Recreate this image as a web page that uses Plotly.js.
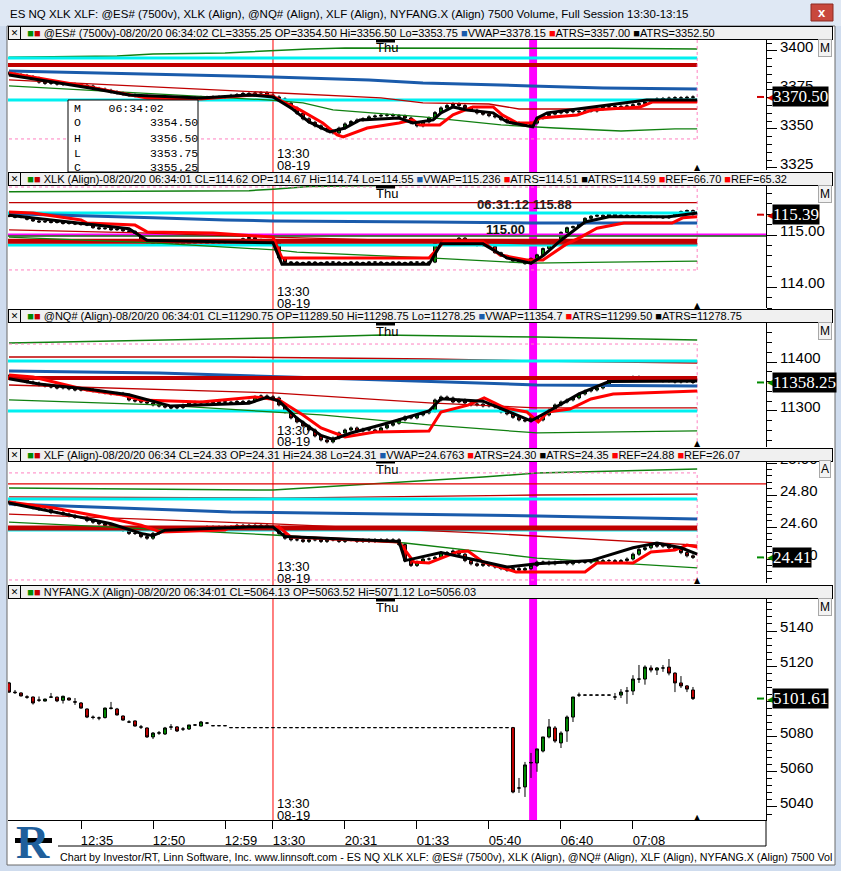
<!DOCTYPE html>
<html><head><meta charset="utf-8">
<script src="https://cdn.plot.ly/plotly-3.0.1.min.js"></script>
<style>html,body{margin:0;padding:0;background:#fff;overflow:hidden}#chart{width:841px;height:871px}</style>
</head><body><div id="chart"></div>
<script>
// ---------------- DATA ----------------
const xTickIdx  = [12, 24, 36, 44, 56, 68, 80, 92, 104];
const xTickText = ['12:35','12:50','12:59','13:30','20:31','01:33','05:40','06:40','07:08'];
const sessionBreakIdx = 44;     // 13:30 08-19 (red line)
const eventIdx = 87.35;         // magenta marker

// @ES# closes
const esClose = [3385.25,3384.75,3384.25,3383.5,3382.5,3380,3379.25,3379.5,3378.75,3378.5,
3378.75,3378.25,3378,3377.5,3376,3375.5,3374.75,3373.75,3373,3372.25,
3371.75,3371.25,3371,3370.5,3370.25,3370.5,3370,3370.25,3369.75,3370,
3370,3369.75,3370.25,3370,3370.5,3370.25,3370.75,3371.5,3372,3372.75,
3372.5,3373,3373.25,3371.75,3370.5,3369.25,3366.5,3363.5,3360,3356.5,
3354.25,3352,3350.25,3348.75,3347.5,3350.5,3353.25,3354.75,3355.75,3356.5,
3357.75,3358.25,3358.75,3359,3358.5,3358.25,3357,3354,3352,3354.5,
3357,3360.5,3363.5,3365,3366,3365,3363.5,3362,3360.25,3359.5,
3358.5,3357.75,3356,3354.5,3353.75,3353.25,3352.75,3353.75,3357,3358.5,
3359.5,3360.25,3360.5,3361,3361.25,3361,3361.5,3361.5,3362.75,3364,
3364.25,3364.5,3364.25,3364.75,3365.5,3366.25,3367.25,3368.25,3369.25,3369.5,
3369.75,3370,3369.75,3370.25,3370.5];
const esGreenHi = [[0,3396],[18,3396.8],[24,3398.1],[36,3398.7],[50,3401.3],[56,3401.9],[100,3401.7],[108,3401.3],[114.7,3401.3]];
const esCyan = [3395.5, 3368.6];
const esRef = [3391];
const esPink = [3343.6];
const esVwap = [[0,3387.2],[24,3385.3],[44,3383.3],[60,3381.4],[69,3379.5],[87,3377.6],[99,3376.3],[114.7,3375.6]];
const esRedBand = [[0,3381.4],[14,3378.8],[44,3373.1],[62,3369.9],[69,3366.7],[80,3366],[85,3362.8],[114.7,3362.8]];
const esGreenLo = [[0,3377.6],[18,3373.7],[43,3368.6],[49,3366.7],[54,3362.2],[69,3357.7],[82,3352.6],[91,3350.6],[102,3348.7],[111,3350],[114.7,3350]];
const esAtrsRed = [[0,3385.9],[4,3383.3],[13.5,3376.9],[18.5,3373.1],[23,3369.9],[32,3369.2],[37,3370.5],[40.7,3371.8],[44,3371.2],[45.7,3367.3],[48.5,3362.2],[52.3,3353.8],[54.7,3346.2],[55.7,3344.9],[59.7,3350.6],[65,3353.8],[67.3,3355.8],[68.5,3352.6],[71.8,3352.6],[74,3359],[77.3,3364.1],[80.7,3364.1],[82.2,3359],[84.7,3353.8],[87.3,3353.8],[88.5,3357],[90.7,3357.7],[94.7,3359],[97.3,3362.2],[101.8,3363.5],[105.2,3364.1],[107.3,3367.3],[114.7,3367.3]];
const esAtrsBlack = [[0,3384.6],[5.2,3381.4],[13.5,3376.3],[20,3371.8],[32,3369.9],[40,3371.8],[44,3370.5],[47,3363.5],[50,3354.5],[53.5,3348.1],[56,3350.6],[58.5,3355.8],[65,3357],[67.3,3353.8],[70.7,3355.8],[72,3360.3],[74,3364.1],[76.3,3362.2],[80.7,3360.3],[83,3354.5],[87.3,3351.3],[88,3357],[89.7,3360.3],[97.3,3364.1],[106.3,3368.6],[114.7,3368.6]];

// XLK closes
const xlkClose = [115.36,115.34,115.35,115.30,115.27,115.25,115.26,115.24,115.25,115.22,
115.23,115.21,115.20,115.19,115.14,115.12,115.13,115.10,115.11,115.08,
115.07,115.00,114.90,114.86,114.84,114.85,114.82,114.84,114.83,114.85,
114.84,114.86,114.85,114.84,114.86,114.85,114.87,114.86,114.88,114.93,
114.95,114.91,114.88,114.87,114.86,114.56,114.47,114.48,114.47,114.47,
114.48,114.47,114.47,114.48,114.48,114.47,114.47,114.48,114.47,114.47,
114.48,114.48,114.47,114.47,114.48,114.47,114.47,114.48,114.48,114.47,
114.48,114.84,114.86,114.85,114.87,114.94,114.84,114.82,114.80,114.81,
114.78,114.66,114.60,114.55,114.50,114.48,114.45,114.55,114.62,114.74,
114.86,114.90,115.05,115.14,115.16,115.22,115.32,115.36,115.38,115.35,
115.40,115.37,115.38,115.36,115.37,115.35,115.36,115.34,115.35,115.33,
115.36,115.42,115.45,115.47,115.39];
const xlkGreenHi = [[0,115.83],[40,115.85],[44,115.88],[50,115.93],[70,115.96],[114.7,115.96]];
const xlkRedHi = [[0,115.62],[44,115.62],[70,115.63],[100,115.63],[114.7,115.62]];
const xlkCyan = [115.42, 114.81];
const xlkMagenta = [115.00];
const xlkGreenLv = [114.98];
const xlkRef = [114.88];
const xlkPink = [115.92, 114.33];
const xlkVwap = [[0,115.41],[14,115.37],[24,115.33],[36,115.29],[44,115.27],[70,115.25],[87,115.23],[114.7,115.23]];
const xlkGreenLo = [[0,114.96],[24,114.85],[45,114.71],[48,114.67],[70,114.56],[87,114.46],[100,114.48],[114.7,114.50]];
const xlkRedLo = [[0,115.10],[22,115.04],[44,114.96],[87,114.83],[114.7,114.83]];
const xlkAtrsRed = [[0,115.44],[4,115.42],[12,115.29],[13,115.23],[21,115.19],[23,115.06],[34,115.04],[44,114.96],[45.5,114.56],[70,114.56],[72.5,114.87],[79,114.87],[81.8,114.62],[86.3,114.52],[89,114.52],[92.7,114.81],[95.3,114.96],[98,115.13],[102.5,115.23],[110.5,115.23],[112.3,115.33],[114.7,115.35]];
const xlkAtrsBlack = [[0,115.38],[12,115.23],[20,115.12],[23,114.9],[44,114.85],[45.5,114.44],[70,114.44],[72,114.83],[79,114.83],[83,114.56],[87,114.46],[89,114.6],[92,114.9],[96,115.25],[100,115.35],[110,115.35],[114.7,115.42]];

// @NQ# closes
const nqClose = [11369.4,11365.3,11363.3,11359.2,11357.1,11353.1,11351,11349,11347,11348,
11345,11343,11342.9,11344,11340.8,11338.8,11336.8,11334.7,11336,11332.7,
11322.5,11320.4,11318.4,11316.4,11312.3,11310.2,11308.2,11306.2,11307,11312,
11316,11318,11316.5,11318.5,11317,11319,11318,11317.5,11319.5,11318,
11320,11328.6,11330.7,11329,11326.6,11312.3,11298,11285.8,11277.6,11269.4,
11261.3,11249,11240.9,11236.8,11245,11255.2,11261.3,11265.4,11259,11263,
11261.3,11258,11265.4,11271,11275,11281.7,11288,11285.8,11291.9,11296,
11300,11322.5,11328.6,11326.6,11318.4,11322.5,11316.4,11312.3,11314,11310.2,
11312.3,11308.2,11298,11294,11287,11281.7,11279.7,11285.8,11281.7,11292,
11302.1,11312.3,11318.4,11322.5,11326.6,11334.7,11340.8,11342.9,11347,11353.1,
11363.3,11365.3,11367.3,11365.3,11369.4,11365,11363.3,11366,11364,11361,
11362,11359.2,11361,11360,11358.25];
const nqGreenHi = [[0,11438.8],[44,11449],[62,11455],[88,11451],[114.7,11445]];
const nqPink = [11436.7];
const nqRedHi = [[0,11410.2],[37,11410.2],[70,11406.1],[88,11402],[114.7,11398]];
const nqCyan = [11402, 11300];
const nqRef = [11367.4];
const nqVwap = [[0,11381.6],[25,11377.6],[52,11367.4],[79,11357.2],[88,11353.1],[114.7,11351]];
const nqRedMid = [[0,11353.1],[44,11336.8],[70,11316.4],[88,11306.2],[114.7,11306.2]];
const nqGreenLo = [[0,11322.5],[25,11312.3],[52,11291.9],[70,11271.5],[88,11255.2],[114.7,11259.3]];
const nqAtrsRed = [[0,11373.5],[4,11369.4],[13,11342.9],[19,11332.7],[22,11322.5],[32,11318.4],[41,11328.6],[45,11322.5],[49,11291.9],[52,11265.4],[56,11247],[61,11257.1],[70,11259.2],[72,11298],[76.5,11312],[79.2,11326.6],[82.7,11306],[86.3,11298],[88.2,11277.6],[89.8,11298],[93.5,11304.1],[97,11324.5],[100.7,11334.7],[114.7,11340.8]];
const nqAtrsBlack = [[0,11366],[5,11355],[13,11345],[20,11333],[27,11310],[40,11316],[43,11328],[45,11320],[48,11285],[52,11250],[54,11242],[57,11255],[63,11275],[70,11300],[72,11325],[79,11320],[83,11300],[87,11280],[90,11300],[95,11335],[100,11360],[114.7,11361]];

// XLF closes
const xlfClose = [24.75,24.74,24.74,24.73,24.72,24.71,24.71,24.69,24.69,24.68,
24.67,24.66,24.66,24.64,24.63,24.62,24.61,24.60,24.59,24.58,
24.56,24.56,24.54,24.53,24.56,24.58,24.59,24.58,24.59,24.59,
24.58,24.59,24.59,24.60,24.59,24.60,24.59,24.60,24.61,24.60,
24.61,24.60,24.61,24.60,24.60,24.56,24.53,24.52,24.52,24.51,
24.52,24.52,24.51,24.52,24.52,24.51,24.52,24.52,24.51,24.52,
24.51,24.52,24.52,24.51,24.52,24.49,24.39,24.36,24.38,24.40,
24.40,24.41,24.44,24.44,24.45,24.43,24.39,24.37,24.36,24.37,
24.36,24.35,24.34,24.33,24.34,24.33,24.34,24.36,24.38,24.38,
24.37,24.38,24.38,24.37,24.38,24.38,24.38,24.39,24.38,24.39,
24.39,24.38,24.39,24.40,24.43,24.46,24.47,24.49,24.48,24.49,
24.47,24.46,24.44,24.42,24.41];
const xlfGreenHi = [[0,24.844],[44,24.831],[79,24.912],[88,24.938],[114.7,24.962]];
const xlfPink = [24.938, 24.269];
const xlfRefLine = [24.869];
const xlfRedHi = [[0,24.788],[44,24.781],[88,24.8],[114.7,24.806]];
const xlfCyan = [24.775, 24.581];
const xlfRef = [24.594];
const xlfVwap = [[0,24.744],[37,24.694],[88,24.669],[114.7,24.65]];
const xlfRedMid = [[0,24.681],[44,24.619],[79,24.562],[114.7,24.487]];
const xlfGreenLo = [[0,24.631],[44,24.55],[66,24.5],[88,24.406],[114.7,24.344]];
const xlfAtrsRed = [[0,24.756],[7.5,24.719],[12,24.687],[16.5,24.656],[22,24.612],[25.3,24.569],[36,24.581],[37,24.6],[45,24.6],[47,24.537],[65,24.506],[67.5,24.381],[70,24.375],[74.7,24.444],[76.5,24.45],[79,24.381],[84.5,24.319],[96,24.319],[98,24.375],[104,24.375],[107,24.444],[111,24.456],[113,24.487],[114.7,24.475]];
const xlfAtrsBlack = [[0,24.75],[7,24.7],[12,24.66],[17,24.62],[22,24.56],[24,24.545],[26,24.58],[40,24.6],[44,24.6],[46,24.54],[65,24.51],[66,24.39],[72,24.44],[77,24.4],[83,24.35],[88,24.37],[97,24.39],[104,24.47],[108,24.5],[112,24.47],[114.7,24.43]];

// NYFANG.X OHLC
const nyOpen = [5110.5,5105.3,5104.8,5102.6,5102.5,5100.8,5100.2,5102.4,5102.4,5100.6,
5101.9,5099.8,5099.1,5095.7,5091.1,5090.6,5090.8,5096.0,5095.7,5091.7,
5088.3,5088.9,5085.5,5084.9,5079.8,5082.0,5081.5,5085.5,5085.5,5084.3,
5084.3,5086.6,5086.0,5087.7,5086.2,5086.2,5086.2,5085.1,5085.1,5085.1,
5085.1,5085.1,5085.1,5085.1,5085.1,5085.1,5085.1,5085.1,5085.1,5085.1,
5085.1,5085.1,5085.1,5085.1,5085.1,5085.1,5085.1,5085.1,5085.1,5085.1,
5085.1,5085.1,5085.1,5085.1,5085.1,5085.1,5085.1,5085.1,5085.1,5085.1,
5085.1,5085.1,5085.1,5085.1,5085.1,5085.1,5085.1,5085.1,5085.1,5085.1,
5085.1,5085.1,5085.1,5085.1,5085.1,5050.8,5051.4,5065.0,5065.0,5071.8,
5079.8,5084.9,5076.4,5083.2,5091.1,5103.6,5103.6,5103.6,5103.6,5103.6,
5103.6,5102.5,5103.6,5105.9,5105.9,5112.7,5112.7,5119.0,5117.8,5119.0,
5119.5,5116.1,5110.5,5108.8,5106.5];
const nyHigh = [5111.1,5106.5,5105.2,5103.5,5102.8,5102.8,5101.6,5104.8,5102.8,5103.3,
5102.2,5101.9,5099.6,5096.0,5092.0,5091.4,5096.5,5099.7,5096.3,5092.0,
5089.3,5089.2,5086.6,5085.2,5082.6,5083.2,5085.5,5087.1,5086.0,5085.4,
5086.6,5087.1,5088.9,5088.3,5086.2,5086.2,5086.2,5085.1,5085.1,5085.1,
5085.1,5085.1,5085.1,5085.1,5085.1,5085.1,5085.1,5085.1,5085.1,5085.1,
5085.1,5085.1,5085.1,5085.1,5085.1,5085.1,5085.1,5085.1,5085.1,5085.1,
5085.1,5085.1,5085.1,5085.1,5085.1,5085.1,5085.1,5085.1,5085.1,5085.1,
5085.1,5085.1,5085.1,5085.1,5085.1,5085.1,5085.1,5085.1,5085.1,5085.1,
5085.1,5085.1,5085.1,5085.1,5085.5,5056.5,5065.6,5070.7,5073.0,5079.8,
5090.0,5086.0,5083.0,5092.0,5102.5,5105.0,5103.6,5103.6,5103.6,5103.6,
5103.6,5104.8,5107.0,5108.2,5114.9,5120.7,5120.5,5120.5,5119.5,5120.7,
5124.1,5116.5,5114.4,5109.3,5108.2];
const nyLow = [5104.8,5104.2,5102.8,5101.5,5098.2,5099.7,5100.0,5102.0,5099.6,5098.8,
5100.5,5098.0,5095.9,5090.5,5089.8,5089.3,5090.3,5095.4,5092.0,5089.1,
5087.7,5085.7,5084.3,5079.3,5078.6,5081.0,5080.9,5083.8,5082.6,5083.2,
5083.8,5086.0,5085.7,5087.1,5086.2,5086.2,5086.2,5085.1,5085.1,5085.1,
5085.1,5085.1,5085.1,5085.1,5085.1,5085.1,5085.1,5085.1,5085.1,5085.1,
5085.1,5085.1,5085.1,5085.1,5085.1,5085.1,5085.1,5085.1,5085.1,5085.1,
5085.1,5085.1,5085.1,5085.1,5085.1,5085.1,5085.1,5085.1,5085.1,5085.1,
5085.1,5085.1,5085.1,5085.1,5085.1,5085.1,5085.1,5085.1,5085.1,5085.1,
5085.1,5085.1,5085.1,5085.1,5047.8,5048.0,5045.7,5056.5,5060.0,5071.0,
5079.0,5076.5,5073.5,5077.0,5088.3,5102.5,5103.6,5103.6,5103.6,5103.6,
5103.6,5100.8,5101.9,5098.6,5103.6,5110.5,5109.5,5116.5,5115.0,5116.8,
5114.8,5105.3,5107.6,5105.3,5100.8];
const nyClose = [5105.3,5105.0,5103.1,5102.4,5099.1,5100.7,5101.3,5102.5,5100.3,5102.9,
5100.8,5099.6,5096.2,5091.1,5090.9,5090.6,5096.2,5096.2,5092.3,5089.4,
5088.3,5086.0,5085.4,5079.8,5082.0,5082.1,5084.9,5085.4,5083.2,5084.3,
5086.6,5086.6,5088.3,5087.7,5086.2,5086.2,5086.2,5085.1,5085.1,5085.1,
5085.1,5085.1,5085.1,5085.1,5085.1,5085.1,5085.1,5085.1,5085.1,5085.1,
5085.1,5085.1,5085.1,5085.1,5085.1,5085.1,5085.1,5085.1,5085.1,5085.1,
5085.1,5085.1,5085.1,5085.1,5085.1,5085.1,5085.1,5085.1,5085.1,5085.1,
5085.1,5085.1,5085.1,5085.1,5085.1,5085.1,5085.1,5085.1,5085.1,5085.1,
5085.1,5085.1,5085.1,5085.1,5048.5,5050.8,5063.9,5065.3,5073.0,5079.8,
5085.5,5077.5,5082.0,5091.1,5102.5,5103.6,5103.6,5103.6,5103.6,5103.6,
5103.6,5102.5,5105.3,5105.9,5112.7,5112.7,5119.5,5117.8,5119.0,5119.0,
5116.1,5110.5,5108.8,5107.0,5101.61];

const lastLabels = ['3370.50','115.39','11358.25','24.41','5101.61'];
const lastValues = [3370.5, 115.39, 11358.25, 24.41, 5101.61];

// ---------------- LAYOUT HELPERS ----------------
const PL = 8, PR = 766, PT = 40, PB = 820;
const px = x => (x - PL) / (PR - PL);
const py = y => (PB - y) / (PB - PT);
const panels = [{top:40,bot:170},{top:186,bot:308},{top:323,bot:447},{top:461,bot:583},{top:599,bot:820}];
const headerY = [33, 179, 316.5, 454.5, 592];
const yNames = ['y','y2','y3','y4','y5'];
const xIdx = esClose.map((_, i) => i);
const XL = -1, XE = xIdx.length - 0.3;

const traces = [];
function line(pts, yax, color, width, dash) {
  traces.push({type:'scatter', mode:'lines', x: pts.map(p=>p[0]), y: pts.map(p=>p[1]),
    xaxis:'x', yaxis:yax, line:{color, width, dash: dash || 'solid'}, hoverinfo:'skip', showlegend:false});
}
function level(v, yax, color, width, dash, xEnd) { line([[XL, v],[xEnd === undefined ? XE : xEnd, v]], yax, color, width, dash); }
function vdash(lo, hi, yax) { line([[XE, lo],[XE, hi]], yax, '#ff80c0', 1, 'dot'); }
function candles(o, h, l, c, yax) {
  traces.push({type:'candlestick', x:xIdx, open:o, high:h, low:l, close:c, xaxis:'x', yaxis:yax,
    increasing:{line:{color:'#000', width:1}, fillcolor:'#008a00'},
    decreasing:{line:{color:'#000', width:1}, fillcolor:'#c40000'},
    whiskerwidth:0, hoverinfo:'skip', showlegend:false});
}
function fromClose(c, first, wick) {
  const o = c.map((v, i) => i ? c[i-1] : first);
  const h = c.map((v, i) => Math.max(o[i], v) + wick);
  const l = c.map((v, i) => Math.min(o[i], v) - wick);
  return [o, h, l, c];
}

const CY = '#00f0f0', BL = '#1a5bab', DR = '#c00000', GR = '#108010', PK = '#ff80c0';

// Panel 1 ES
line(esGreenHi,'y',GR,1.5);
level(esCyan[0],'y',CY,3); level(esCyan[1],'y',CY,3);
level(esRef[0],'y',DR,4);
line(esVwap,'y',BL,3);
line(esRedBand,'y',DR,1.3);
line(esGreenLo,'y',GR,1.3);
level(esPink[0],'y',PK,1,'dot'); vdash(esPink[0], 3407, 'y');
line(esAtrsRed,'y','#ff0000',3);
line(esAtrsBlack,'y','#000',3);
candles(...fromClose(esClose, 3386, 1), 'y');

// Panel 2 XLK
line(xlkGreenHi,'y2',GR,1.5);
line(xlkRedHi,'y2',DR,1.3);
level(xlkPink[0],'y2',PK,1,'dot'); level(xlkPink[1],'y2',PK,1,'dot'); vdash(xlkPink[1], xlkPink[0], 'y2');
level(xlkCyan[0],'y2',CY,3); level(xlkCyan[1],'y2',CY,3);
line(xlkVwap,'y2',BL,3);
level(xlkMagenta[0],'y2','#ff00ff',3,'solid',130);
level(xlkGreenLv[0],'y2',GR,1.5,'solid',130);
level(xlkRef[0],'y2',DR,5);
line(xlkGreenLo,'y2',GR,1.3);
line(xlkRedLo,'y2',DR,1.3);
line(xlkAtrsRed,'y2','#ff0000',3);
line(xlkAtrsBlack,'y2','#000',3);
candles(...fromClose(xlkClose, 115.38, 0.02), 'y2');

// Panel 3 NQ
line(nqGreenHi,'y3',GR,1.5);
level(nqPink[0],'y3',PK,1,'dot'); vdash(11226, nqPink[0], 'y3');
line(nqRedHi,'y3',DR,1.3);
level(nqCyan[0],'y3',CY,3); level(nqCyan[1],'y3',CY,3);
line(nqVwap,'y3',BL,3);
level(nqRef[0],'y3',DR,4);
line(nqRedMid,'y3',DR,1.3);
line(nqGreenLo,'y3',GR,1.3);
line(nqAtrsRed,'y3','#ff0000',3);
line(nqAtrsBlack,'y3','#000',3);
candles(...fromClose(nqClose, 11372, 3), 'y3');

// Panel 4 XLF
line(xlfGreenHi,'y4',GR,1.5);
level(xlfPink[0],'y4',PK,1,'dot'); level(xlfPink[1],'y4',PK,1,'dot'); vdash(xlfPink[1], xlfPink[0], 'y4');
level(xlfRefLine[0],'y4','#e00000',1.3,'solid',130);
line(xlfRedHi,'y4',DR,1.3);
level(xlfCyan[0],'y4',CY,3); level(xlfCyan[1],'y4',CY,3);
line(xlfVwap,'y4',BL,3);
line(xlfRedMid,'y4',DR,1.3);
level(xlfRef[0],'y4',DR,5);
line(xlfGreenLo,'y4',GR,1.3);
line(xlfAtrsRed,'y4','#ff0000',3);
line(xlfAtrsBlack,'y4','#000',3);
candles(...fromClose(xlfClose, 24.76, 0.01), 'y4');

// Panel 5 NYFANG
candles(nyOpen, nyHigh, nyLow, nyClose, 'y5');

// ---------------- AXES ----------------
const yRanges = [[3323.7,3407],[113.6,115.94],[11226.5,11479.6],[24.25,25.0125],[5032.6,5158.2]];
const yDticks = [25, 1, 100, 0.2, 20];
const yMinor = [5, 0.2, 20, 0.04, 4];
const yFmt = ['d','.2f','d','.2f','d'];

const layout = {
  width:841, height:871, margin:{l:PL, r:841-PR, t:PT, b:871-PB},
  paper_bgcolor:'#fff', plot_bgcolor:'#fff', showlegend:false, hovermode:false,
  font:{family:'Liberation Sans, Arial, sans-serif', color:'#000'},
  xaxis:{range:[-0.167,126.17], anchor:'y5', tickmode:'array', tickvals:xTickIdx, ticktext:xTickText,
    ticks:'outside', ticklen:8, tickcolor:'#000', showline:true, linecolor:'#000', showgrid:false,
    zeroline:false, rangeslider:{visible:false}, tickfont:{size:13}, ticklabelshift:16, fixedrange:true},
  shapes:[], annotations:[]
};
panels.forEach((p, k) => {
  layout['yaxis' + (k ? k+1 : '')] = {
    domain:[py(p.bot), py(p.top)], range:yRanges[k], side:'right', anchor:'x',
    dtick:yDticks[k], tick0:0, tickformat:yFmt[k], ticks:'outside', ticklen:10, tickcolor:'#000',
    showline:true, linecolor:'#000', showgrid:false, zeroline:false, tickfont:{size:15},
    ticklabelshift:-4, fixedrange:true,
    minor:{ticks:'outside', ticklen:5, dtick:yMinor[k], tickcolor:'#000', showgrid:false}
  };
});

const S = layout.shapes, A = layout.annotations;
function prect(x0,y0,x1,y1,fill,lineColor,lw,layer){ S.push({type:'rect', xref:'paper', yref:'paper', x0:px(x0), x1:px(x1), y0:py(y1), y1:py(y0), fillcolor:fill, line:{color:lineColor||fill, width:lw===undefined?0:lw}, layer:layer||'above'}); }
function pline(x0,y0,x1,y1,color,w){ S.push({type:'line', xref:'paper', yref:'paper', x0:px(x0), x1:px(x1), y0:py(y0), y1:py(y1), line:{color, width:w||1}, layer:'above'}); }
function note(o) { A.push(Object.assign({showarrow:false, xanchor:'center', yanchor:'middle'}, o)); }

// event marker and session line
S.push({type:'rect', xref:'x', yref:'paper', x0:eventIdx-0.66, x1:eventIdx+0.66, y0:0, y1:1, fillcolor:'#ff00ff', line:{width:0}, layer:'below'});
S.push({type:'line', xref:'x', yref:'paper', x0:sessionBreakIdx, x1:sessionBreakIdx, y0:0, y1:1, line:{color:'#ff0000', width:1}, layer:'below'});

// window frame
prect(0,0,841,26,'#dfe8f4');
prect(0,26,7,871,'#cfdcee');
prect(835,26,841,871,'#cfdcee');
prect(0,865,841,871,'#cfdcee');
S.push({type:'rect', xref:'paper', yref:'paper', x0:px(7), x1:px(835), y0:py(865), y1:py(26), fillcolor:'rgba(0,0,0,0)', line:{color:'#6a6a6a', width:1}, layer:'above'});
prect(811,4,833,21,'#c8483d','#8b2a22',1);
note({xref:'paper', yref:'paper', x:px(822), y:py(12.5), text:'<b>x</b>', font:{size:13, color:'#fff'}});
note({xref:'paper', yref:'paper', x:px(8), y:py(14), xanchor:'left',
  text:'ES NQ XLK XLF: @ES# (7500v), XLK (Align), @NQ# (Align), XLF (Align), NYFANG.X (Align) 7500 Volume, Full Session 13:30-13:15',
  font:{size:11.5, family:'Liberation Sans'}});

// data window box in panel 1
prect(68,100,198,172,'#fff','#000',1);
const dataRows = ['M\u00a0\u00a0\u00a0\u00a006:34:02','O\u00a0\u00a0\u00a0\u00a0\u00a0\u00a0\u00a0\u00a0\u00a0\u00a03354.50','H\u00a0\u00a0\u00a0\u00a0\u00a0\u00a0\u00a0\u00a0\u00a0\u00a03356.50','L\u00a0\u00a0\u00a0\u00a0\u00a0\u00a0\u00a0\u00a0\u00a0\u00a03353.75','C\u00a0\u00a0\u00a0\u00a0\u00a0\u00a0\u00a0\u00a0\u00a0\u00a03355.25'];
dataRows.forEach((t, r) => note({xref:'paper', yref:'paper', x:px(72), y:py(108 + 15*r), xanchor:'left', text:t, font:{family:'Liberation Mono, Courier New, monospace', size:11.5}}));

// headers
const sq = c => '<span style="color:' + c + '">■</span>';
const NB = '\u00a0';
const headerTexts = [
  NB.repeat(6) + sq('#008a00') + sq('#c40000') + ' @ES# (7500v)-08/20/20 06:34:02 CL=3355.25 OP=3354.50 Hi=3356.50 Lo=3353.75 ' + sq(BL) + 'VWAP=3378.15 ' + sq('#ff0000') + 'ATRS=3357.00 ' + sq('#000') + 'ATRS=3352.50',
  NB.repeat(6) + sq('#008a00') + sq('#c40000') + ' XLK (Align)-08/20/20 06:34:01 CL=114.62 OP=114.67 Hi=114.74 Lo=114.55 ' + sq(BL) + 'VWAP=115.236 ' + sq('#ff0000') + 'ATRS=114.51 ' + sq('#000') + 'ATRS=114.59 ' + sq('#ff0000') + 'REF=66.70 ' + sq('#ff0000') + 'REF=65.32',
  NB.repeat(6) + sq('#008a00') + sq('#c40000') + ' @NQ# (Align)-08/20/20 06:34:01 CL=11290.75 OP=11289.50 Hi=11298.75 Lo=11278.25 ' + sq(BL) + 'VWAP=11354.7 ' + sq('#ff0000') + 'ATRS=11299.50 ' + sq('#000') + 'ATRS=11278.75',
  NB.repeat(6) + sq('#008a00') + sq('#c40000') + ' XLF (Align)-08/20/20 06:34 CL=24.33 OP=24.31 Hi=24.38 Lo=24.31 ' + sq(BL) + 'VWAP=24.6763 ' + sq('#ff0000') + 'ATRS=24.30 ' + sq('#000') + 'ATRS=24.35 ' + sq('#ff0000') + 'REF=24.88 ' + sq('#ff0000') + 'REF=26.07',
  NB.repeat(6) + sq('#008a00') + sq('#c40000') + ' NYFANG.X (Align)-08/20/20 06:34:01 CL=5064.13 OP=5063.52 Hi=5071.12 Lo=5056.03'
];
headerTexts.forEach((t, k) => {
  note({xref:'paper', yref:'paper', x:px(8), y:py(headerY[k]), xanchor:'left', width:823, height:12,
    align:'left', valign:'middle', bgcolor:'#f0f0f0', bordercolor:'#000', borderwidth:1, borderpad:0,
    text:t, font:{size:11, family:'Liberation Sans'}});
  note({xref:'paper', yref:'paper', x:px(8), y:py(headerY[k]), xanchor:'left', width:11, height:12,
    bgcolor:'#f0f0f0', bordercolor:'#000', borderwidth:1, borderpad:0, text:'✕', font:{size:9, family:'DejaVu Sans'}});
});

// per panel decorations
const btn = ['M','M','M','A','M'];
const arrowCol = ['#d00000','#d00000','#008a00','#008a00','#008a00'];
panels.forEach((p, k) => {
  prect(376, p.top, 395, p.top + 2.5, '#000');
  note({xref:'paper', yref:'paper', x:px(387), y:py(p.top + 8), text:'Thu', font:{size:13}});
  note({xref:'paper', yref:'paper', x:px(275), y:py(p.bot - 17), xanchor:'left', text:'13:30', font:{size:13}});
  note({xref:'paper', yref:'paper', x:px(275), y:py(p.bot - 5), xanchor:'left', text:'08-19', font:{size:13}});
  note({xref:'paper', yref:'paper', x:px(825), y:py(p.top + 8), text:btn[k], bgcolor:'#f3f3f3', bordercolor:'#a8a8a8', borderwidth:1, borderpad:1, font:{size:12}});
  note({xref:'x', yref:'paper', x:XE, y:py(p.bot - 3), text:'▲', font:{size:8, family:'DejaVu Sans'}});
  const yn = yNames[k];
  S.push({type:'line', xref:'paper', yref:yn, x0:px(757), x1:px(764), y0:lastValues[k], y1:lastValues[k], line:{color:arrowCol[k], width:2}, layer:'above'});
  note({xref:'paper', yref:yn, x:px(765), y:lastValues[k], xanchor:'left', text:'◀', font:{size:12, family:'DejaVu Sans', color:arrowCol[k]}});
  note({xref:'paper', yref:yn, x:px(772), y:lastValues[k], xanchor:'left', text:lastLabels[k], bgcolor:'#000', borderpad:0, font:{size:17, family:'Liberation Serif, Times New Roman, serif', color:'#fff'}});
});

// XLK price notes
note({xref:'x', yref:'y2', x:77.6, y:115.58, xanchor:'left', text:'<b>06:31:12 115.88</b>', font:{size:13, color:'#222'}});
note({xref:'x', yref:'y2', x:79.1, y:115.10, xanchor:'left', text:'<b>115.00</b>', font:{size:13, color:'#111'}});

// footer
pline(58, 846, 766, 846, '#000', 1);
pline(766, 820, 766, 846, '#000', 1);
note({xref:'paper', yref:'paper', x:px(58), y:py(857), xanchor:'left',
  text:'Chart by Investor/RT, Linn Software, Inc. www.linnsoft.com - ES NQ XLK XLF: @ES# (7500v), XLK (Align), @NQ# (Align), XLF (Align), NYFANG.X (Align) 7500 Vol',
  font:{size:10.7, family:'Liberation Sans'}});
// logo
note({xref:'paper', yref:'paper', x:px(33), y:py(843), text:'<b>R</b>', font:{size:46, family:'Liberation Serif', color:'#1f5f9c'}});
prect(15, 838, 52, 843, '#000');

Plotly.newPlot('chart', traces, layout, {staticPlot:true, displayModeBar:false});
</script></body></html>
